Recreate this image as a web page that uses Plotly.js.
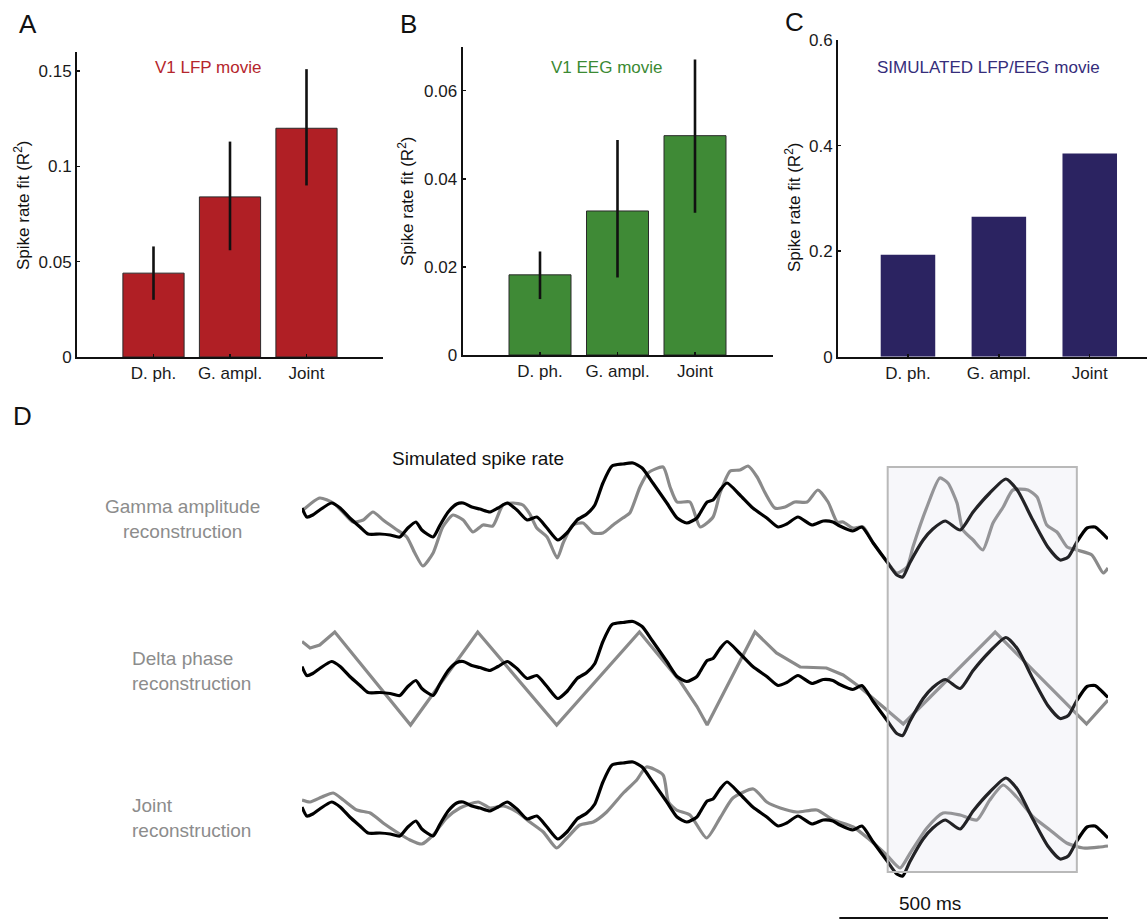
<!DOCTYPE html>
<html>
<head>
<meta charset="utf-8">
<script src="https://cdn.plot.ly/plotly-3.0.1.min.js"></script>
<style>
  html, body { margin: 0; padding: 0; background: #fff; }
  #fig { width: 1147px; height: 922px; }
</style>
</head>
<body>
<div id="fig"></div>
<script>
// ---- Bar panels: spike-rate fit (R^2) per predictor ----
const categories = ['D. ph.', 'G. ampl.', 'Joint'];

const lfpFit = [0.044, 0.084, 0.120];
const lfpErrPlus = [0.014, 0.029, 0.031];
const lfpErrMinus = [0.014, 0.028, 0.030];

const eegFit = [0.0182, 0.0327, 0.0498];
const eegErrPlus = [0.0053, 0.0161, 0.0173];
const eegErrMinus = [0.0055, 0.0151, 0.0175];

const simFit = [0.193, 0.265, 0.385];

// ---- Panel D: simulated spike rate and its reconstructions (time in ms, rate in a.u.) ----
const spikeT = [0,9,20,33,55,71,89,108,123,145,164,182,197,212,223,244,257,272,288,300,316,331,350,365,382,400,419,437,456,476,493,512,530,545,560,577,597,616,633,653,679,698,716,735,741,754,765,778,791,815,839,865,886,902,923,949,970,988,1001,1025,1042,1063,1089,1107,1118,1131,1156,1174,1197,1225,1249,1280,1310,1331,1360,1388,1411,1426,1442,1461,1476,1489,1500];
const spikeRate = [7.7,6.8,7.0,7.5,8.2,7.7,6.7,5.8,5.1,5.1,5.0,4.8,5.7,6.3,5.5,4.8,6.0,7.3,8.1,8.2,7.8,7.6,7.3,7.7,8.2,7.5,6.5,6.8,5.7,4.5,5.2,6.5,7.1,8.0,10.2,11.9,12.1,12.2,11.7,10.2,8.2,6.7,6.2,6.7,7.2,8.3,8.5,9.5,10.2,9.0,7.7,6.7,5.8,6.1,6.8,6.0,6.4,6.3,5.9,5.4,5.8,4.2,2.3,1.0,0.8,2.2,4.5,5.6,6.4,5.5,7.3,9.2,10.6,9.5,6.5,3.8,2.5,2.8,4.3,5.7,5.8,5.2,4.6];

const gammaT = [2,33,58,76,95,114,132,151,177,195,210,225,244,262,281,300,318,337,355,374,393,411,424,437,456,475,486,504,523,542,560,579,597,610,629,644,672,685,698,722,741,765,778,797,815,830,847,862,880,899,917,940,960,979,996,1007,1025,1044,1063,1089,1107,1126,1137,1163,1187,1202,1219,1230,1249,1267,1286,1305,1323,1351,1368,1386,1405,1424,1442,1470,1491,1500];
const gammaRecon = [7.5,8.7,8.2,7.3,6.3,6.5,7.3,6.5,5.5,4.8,3.2,1.9,3.2,5.8,7.0,6.5,5.3,6.0,5.9,8.0,8.2,8.0,7.1,5.7,4.8,2.7,4.2,6.0,6.2,5.2,5.2,6.0,6.7,7.2,9.8,11.2,11.8,9.8,8.3,8.3,5.8,6.8,9.2,11.4,11.5,11.9,10.8,9.2,7.7,7.8,8.3,8.3,9.5,8.3,6.3,6.3,5.7,5.8,4.2,2.3,1.2,1.8,3.8,7.8,10.7,10.2,8.2,5.5,4.5,3.5,6.2,7.8,9.5,9.5,8.8,6.0,5.3,3.8,3.5,3.0,1.2,1.7];

const deltaT = [0,15,33,61,202,327,474,628,704,735,754,843,883,927,976,1007,1038,1119,1290,1460,1500];
const deltaRecon = [10.2,9.55,9.85,11.15,1.85,11.15,1.85,11.15,6.2,3.7,1.85,11.15,9.05,7.65,7.55,6.85,5.65,1.95,11.15,1.95,4.35];

const jointT = [0,15,37,58,77,102,127,151,176,201,223,244,269,294,328,350,375,400,424,449,474,493,517,542,567,598,623,641,672,682,697,722,753,778,802,840,865,890,921,958,989,1026,1057,1088,1113,1132,1163,1193,1225,1256,1280,1305,1330,1361,1392,1423,1454,1485,1500];
const jointRecon = [8.4,8.2,8.7,9.1,8.4,7.4,7.1,6.1,5.2,4.4,4.0,4.9,6.6,7.6,8.2,7.6,7.8,7.2,6.2,5.2,3.6,4.6,5.9,6.2,7.2,9.1,10.4,11.7,10.9,8.2,7.4,6.9,4.6,6.6,8.6,9.5,8.2,7.6,7.2,7.4,6.4,5.7,4.4,2.9,1.6,3.1,5.6,7.1,6.9,6.4,8.4,9.9,8.7,6.7,5.4,4.1,3.6,3.7,3.8];

const rowLabels = ['Gamma amplitude<br>reconstruction', 'Delta phase<br>reconstruction', 'Joint<br>reconstruction'];
const highlightWindow = [1090, 1442];   // ms
const scaleBar = [1000, 1500];          // ms

// ---- page geometry helpers (pixel -> paper fraction) ----
const W = 1147, H = 922;
const fx = p => p / W;
const fy = p => 1 - p / H;

const FONT = 'Liberation Sans, Arial, Helvetica, sans-serif';
const RED = '#b01f25', GREEN = '#3f8a36', NAVY = '#2b2361';
const GREY = '#8a8a8a';

function barTrace(vals, color, xa, ya, width, plus, minus, lineW) {
  const t = {
    type: 'bar', x: categories, y: vals, xaxis: xa, yaxis: ya,
    width: width,
    marker: { color: color, line: { color: lineW ? '#2a2a2a' : color, width: lineW || 0 } },
    hoverinfo: 'skip'
  };
  if (plus) {
    t.error_y = { type: 'data', symmetric: false, array: plus, arrayminus: minus,
                  color: '#111', thickness: 2.6, width: 0 };
  }
  return t;
}

function lineTrace(t, v, color, ya, shape) {
  return {
    type: 'scatter', mode: 'lines', x: t, y: v, xaxis: 'x4', yaxis: ya,
    line: { color: color, width: 3.2, shape: shape, smoothing: 0.6 },
    hoverinfo: 'skip'
  };
}

const data = [
  barTrace(lfpFit, RED, 'x', 'y', 0.8, lfpErrPlus, lfpErrMinus, 1),
  barTrace(eegFit, GREEN, 'x2', 'y2', 0.8, eegErrPlus, eegErrMinus, 1),
  barTrace(simFit, NAVY, 'x3', 'y3', 0.6, null, null, 0),

  lineTrace(gammaT, gammaRecon, GREY, 'y4', 'spline'),
  lineTrace(spikeT, spikeRate, '#000', 'y4', 'spline'),
  lineTrace(deltaT, deltaRecon, GREY, 'y5', 'linear'),
  lineTrace(spikeT, spikeRate, '#000', 'y5', 'spline'),
  lineTrace(jointT, jointRecon, GREY, 'y6', 'spline'),
  lineTrace(spikeT, spikeRate, '#000', 'y6', 'spline')
];

const tickFont = { family: FONT, size: 17, color: '#1a1a1a' };

function xCat(domain, range, anchor) {
  return {
    domain: domain, range: range, anchor: anchor, type: 'category',
    showline: true, linecolor: '#111', linewidth: 2,
    ticks: 'inside', ticklen: 3, tickwidth: 1.5, tickcolor: '#111',
    showgrid: false, zeroline: false, tickfont: tickFont, fixedrange: true
  };
}
function yLin(domain, range, dtick, anchor) {
  return {
    domain: domain, range: range, dtick: dtick, anchor: anchor,
    showline: true, linecolor: '#111', linewidth: 2,
    ticks: 'inside', ticklen: 3, tickwidth: 1.5, tickcolor: '#111',
    showgrid: false, zeroline: false, tickfont: tickFont, fixedrange: true
  };
}
function yHidden(domain) {
  return { domain: domain, range: [0, 13], anchor: 'x4', visible: false, fixedrange: true };
}

function note(text, x, y, opts) {
  return Object.assign({
    text: text, x: fx(x), y: fy(y), xref: 'paper', yref: 'paper',
    showarrow: false, xanchor: 'center', yanchor: 'middle',
    font: { family: FONT, size: 17, color: '#111' }
  }, opts || {});
}

const layout = {
  width: W, height: H,
  margin: { l: 0, r: 0, t: 0, b: 0 },
  paper_bgcolor: '#fff', plot_bgcolor: 'rgba(0,0,0,0)',
  showlegend: false,
  font: { family: FONT },

  xaxis: xCat([fx(77), fx(383)], [-1, 3], 'y'),
  yaxis: yLin([fy(357), fy(52)], [0, 0.16], 0.05, 'x'),
  xaxis2: xCat([fx(462.5), fx(772.5)], [-1, 3], 'y2'),
  yaxis2: yLin([fy(355), fy(46.7)], [0, 0.07], 0.02, 'x2'),
  xaxis3: xCat([fx(838), fx(1147)], [-0.77, 2.63], 'y3'),
  yaxis3: yLin([fy(356.7), fy(40)], [0, 0.6], 0.2, 'x3'),

  xaxis4: { domain: [fx(302), fx(1108)], range: [0, 1500], anchor: 'y6', visible: false, fixedrange: true },
  yaxis4: yHidden([fy(585), fy(455)]),
  yaxis5: yHidden([fy(743.5), fy(613.5)]),
  yaxis6: yHidden([fy(884), fy(754)]),

  shapes: [
    { type: 'rect', layer: 'above', xref: 'x4', yref: 'paper',
      x0: highlightWindow[0], x1: highlightWindow[1], y0: fy(872), y1: fy(467),
      fillcolor: 'rgba(205,210,228,0.17)', line: { color: '#b9b9b9', width: 2 } },
    { type: 'line', xref: 'x4', yref: 'paper',
      x0: scaleBar[0], x1: scaleBar[1], y0: fy(918), y1: fy(918),
      line: { color: '#111', width: 2 } }
  ],

  annotations: [
    note('A', 28, 24, { font: { family: FONT, size: 26, color: '#111' } }),
    note('B', 408, 24, { font: { family: FONT, size: 26, color: '#111' } }),
    note('C', 794, 22, { font: { family: FONT, size: 26, color: '#111' } }),
    note('D', 22, 416, { font: { family: FONT, size: 26, color: '#111' } }),

    note('V1 LFP movie', 208, 67, { font: { family: FONT, size: 17, color: '#b5262c' } }),
    note('V1 EEG movie', 607, 67, { font: { family: FONT, size: 17, color: '#3b8a33' } }),
    note('SIMULATED LFP/EEG movie', 988, 67, { font: { family: FONT, size: 17, color: '#352d7b' } }),

    note('Spike rate fit (R<sup>2</sup>)', 22, 206, { textangle: -90 }),
    note('Spike rate fit (R<sup>2</sup>)', 406, 202, { textangle: -90 }),
    note('Spike rate fit (R<sup>2</sup>)', 793, 207, { textangle: -90 }),

    note('Simulated spike rate', 478, 458, { font: { family: FONT, size: 19, color: '#111' } }),
    note(rowLabels[0], 182, 519, { align: 'center', font: { family: FONT, size: 19, color: '#8c8c8c' } }),
    note(rowLabels[1], 130, 671, { xanchor: 'left', align: 'left', font: { family: FONT, size: 19, color: '#8c8c8c' } }),
    note(rowLabels[2], 130, 818, { xanchor: 'left', align: 'left', font: { family: FONT, size: 19, color: '#8c8c8c' } }),

    note('500 ms', 930, 903, { font: { family: FONT, size: 19, color: '#111' } })
  ]
};

Plotly.newPlot('fig', data, layout, { staticPlot: true, displayModeBar: false });
</script>
</body>
</html>
